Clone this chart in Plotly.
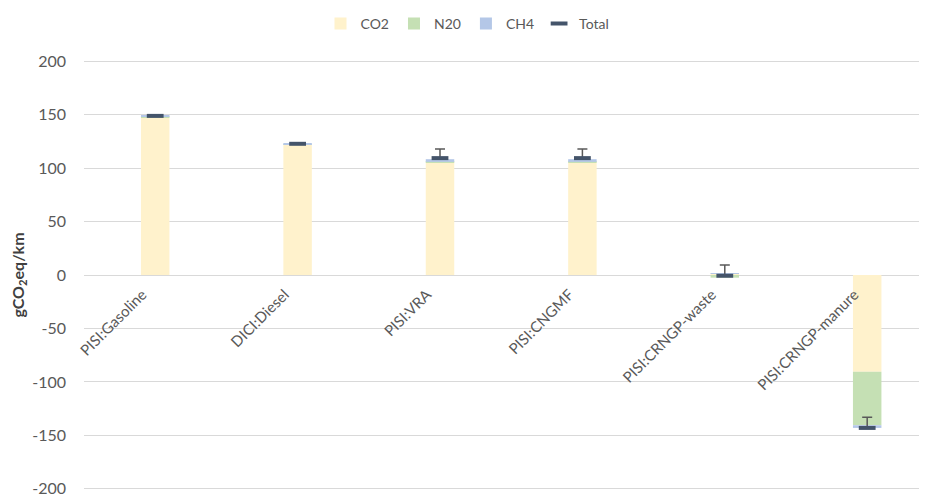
import plotly.graph_objects as go

categories = ["PISI:Gasoline", "DICI:Diesel", "PISI:VRA", "PISI:CNGMF",
              "PISI:CRNGP-waste", "PISI:CRNGP-manure"]
co2 = [147.5, 122.0, 105.5, 105.5, 1.5, -90.5]
n2o = [0.3, 0.2, 0.3, 0.3, -2.5, -50.0]
ch4 = [1.0, 0.5, 2.5, 2.5, 0.3, -2.5]
total = [148.8, 122.7, 109.3, 109.3, -0.7, -143.0]
err_plus = [0.5, 0.5, 8.5, 8.5, 10.0, 10.0]
err_minus = [0.0, 0.0, 0.0, 0.0, 0.0, 0.0]
y_ticks = [200, 150, 100, 50, 0, -50, -100, -150, -200]
y_tick_text = ["200", "150", "100", "50", "0", "-50", "-100", "-150", "-200"]

FONT = "Lato"
GREY = "#595959"

fig = go.Figure()
fig.add_trace(go.Bar(x=categories, y=co2, name="CO2", marker_color="#FFF2CC",
                     marker_line_width=0))
fig.add_trace(go.Bar(x=categories, y=n2o, name="N20", marker_color="#C5E0B4",
                     marker_line_width=0))
fig.add_trace(go.Bar(x=categories, y=ch4, name="CH4", marker_color="#B4C7E7",
                     marker_line_width=0))
fig.add_trace(go.Scatter(
    x=categories, y=total, name="Total", mode="markers",
    marker=dict(symbol="line-ew", size=12, line=dict(width=4, color="#44546A"),
                color="#44546A"),
    error_y=dict(type="data", array=err_plus, arrayminus=err_minus,
                 color="#595959", thickness=1.5, width=5, symmetric=False),
))

# the page body has an 8px margin, so the figure is 8px smaller than the window
fig.update_layout(
    width=919, height=486,
    barmode="relative", bargap=0.80,
    plot_bgcolor="white", paper_bgcolor="white",
    margin=dict(l=76, r=0, t=51, b=3, autoexpand=False),
    font=dict(family=FONT, size=15, color=GREY),
    legend=dict(orientation="h", x=0.5, xanchor="center", xref="container",
                y=1.0, yanchor="top", yref="container",
                font=dict(size=14, color=GREY),
                itemwidth=30, traceorder="normal"),
    xaxis=dict(
        range=[-0.5, 5.42], tickangle=-45, anchor="free", position=0.5,
        showgrid=False, showline=False, zeroline=False, automargin=False,
        tickfont=dict(size=15, color=GREY), ticks="",
        ticklabelshift=-13, ticklabelstandoff=7,
    ),
    yaxis=dict(
        range=[-202, 202], tickvals=y_ticks, ticktext=y_tick_text,
        showgrid=True, gridcolor="#D9D9D9",
        gridwidth=1, zeroline=False, showline=False, automargin=False,
        tickfont=dict(size=16, color=GREY), ticklabelstandoff=17,
        ticklabeloverflow="allow",
        title=dict(text="<b>gCO<sub>2</sub>eq/km</b>", standoff=8,
                   font=dict(size=16, color="#404040")),
    ),
)

fig.write_html("out.html")
